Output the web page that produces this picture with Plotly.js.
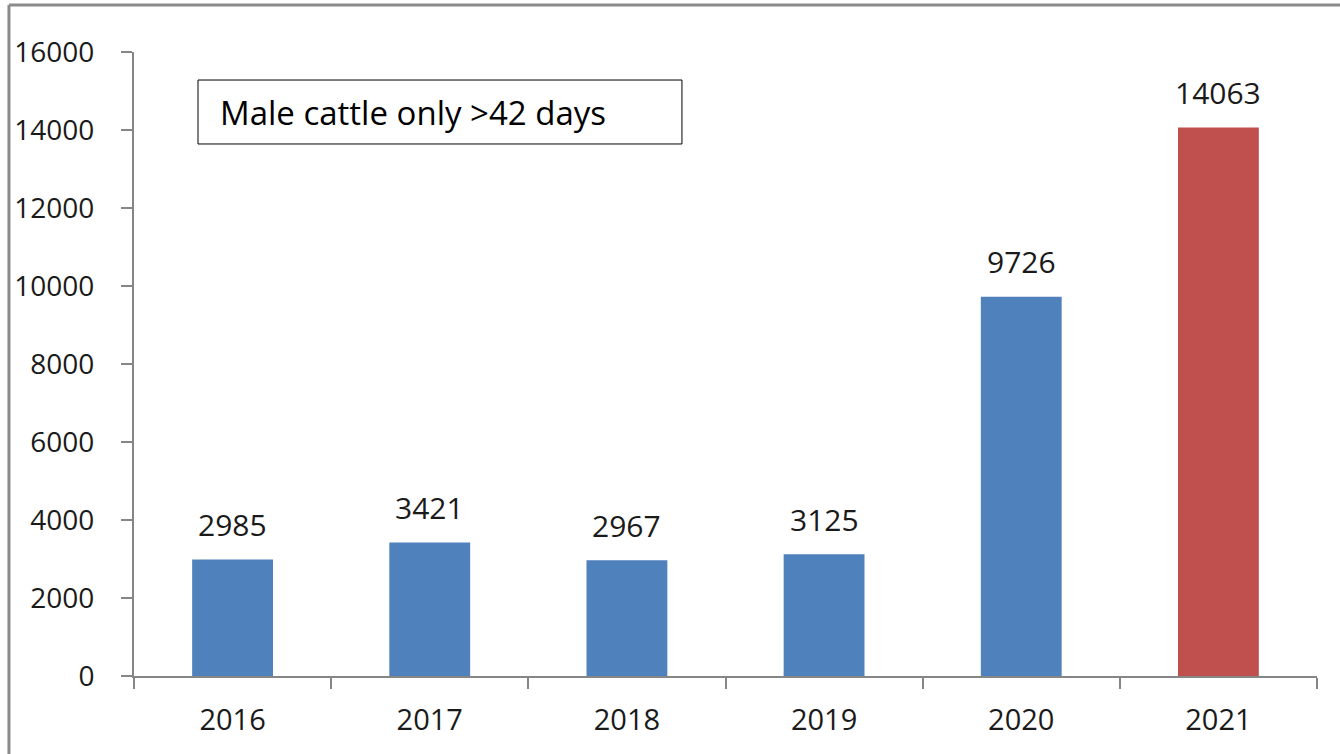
<!DOCTYPE html>
<html>
<head>
<meta charset="utf-8">
<script src="https://cdn.plot.ly/plotly-3.0.1.min.js"></script>
<style>html,body{margin:0;padding:0;background:#fff;}#chart{width:1340px;height:754px;}</style>
</head>
<body>
<div id="chart"></div>
<script>
const years = ["2016", "2017", "2018", "2019", "2020", "2021"];
const counts = [2985, 3421, 2967, 3125, 9726, 14063];
const barColors = ["#4F81BD", "#4F81BD", "#4F81BD", "#4F81BD", "#4F81BD", "#C0504D"];
const yTicks = [0, 2000, 4000, 6000, 8000, 10000, 12000, 14000, 16000];
const noteText = "Male cattle only >42 days";

const font = "Open Sans, Liberation Sans, sans-serif";
const axisColor = "#868686";

const trace = {
  type: "bar",
  x: years,
  y: counts,
  marker: {color: barColors, line: {width: 0}},
  hoverinfo: "x+y"
};

const labelAnnotations = years.map((yr, i) => ({
  x: i, y: counts[i], xref: "x", yref: "y",
  text: String(counts[i]), showarrow: false,
  yanchor: "middle", yshift: 35,
  font: {family: font, size: 30, color: "#1a1a1a"}
}));

const layout = {
  width: 1340, height: 754,
  margin: {l: 134, r: 23, t: 52, b: 78},
  paper_bgcolor: "#ffffff", plot_bgcolor: "#ffffff",
  bargap: 0.59,
  showlegend: false,
  font: {family: font, size: 30, color: "#1a1a1a"},
  xaxis: {
    type: "category",
    range: [-0.5, years.length - 0.5],
    showline: true, linecolor: axisColor, linewidth: 2,
    ticks: "outside", tickson: "boundaries", ticklen: 11, tickwidth: 2, tickcolor: axisColor,
    showgrid: false, zeroline: false,
    tickfont: {family: font, size: 29, color: "#1a1a1a"},
    ticklabelstandoff: 17
  },
  yaxis: {
    range: [0, 16000],
    tickvals: yTicks,
    ticktext: yTicks.map(String),
    showline: true, linecolor: axisColor, linewidth: 2,
    ticks: "outside", ticklen: 11, tickwidth: 2, tickcolor: axisColor,
    showgrid: false, zeroline: false,
    tickfont: {family: font, size: 28, color: "#1a1a1a"},
    ticklabelstandoff: 21
  },
  shapes: [
    {type: "line", xref: "paper", yref: "paper", x0: -0.1057, x1: -0.1057, y0: -0.2, y1: 1.0753,
     line: {color: "#8a8a8a", width: 3}},
    {type: "line", xref: "paper", yref: "paper", x0: -0.1057, x1: 1.1, y0: 1.0753, y1: 1.0753,
     line: {color: "#8a8a8a", width: 3}},
    {type: "rect", xref: "paper", yref: "paper", x0: 0.0541, x1: 0.4632, y0: 0.8526, y1: 0.9551,
     line: {color: "#000000", width: 1}, fillcolor: "rgba(0,0,0,0)"}
  ],
  annotations: labelAnnotations.concat([{
    xref: "paper", yref: "paper", x: 0.0710, y: 0.9038,
    xanchor: "left", yanchor: "middle", showarrow: false,
    text: noteText,
    font: {family: font, size: 33, color: "#000000"}
  }])
};

Plotly.newPlot("chart", [trace], layout, {displayModeBar: false, staticPlot: true});
</script>
</body>
</html>
